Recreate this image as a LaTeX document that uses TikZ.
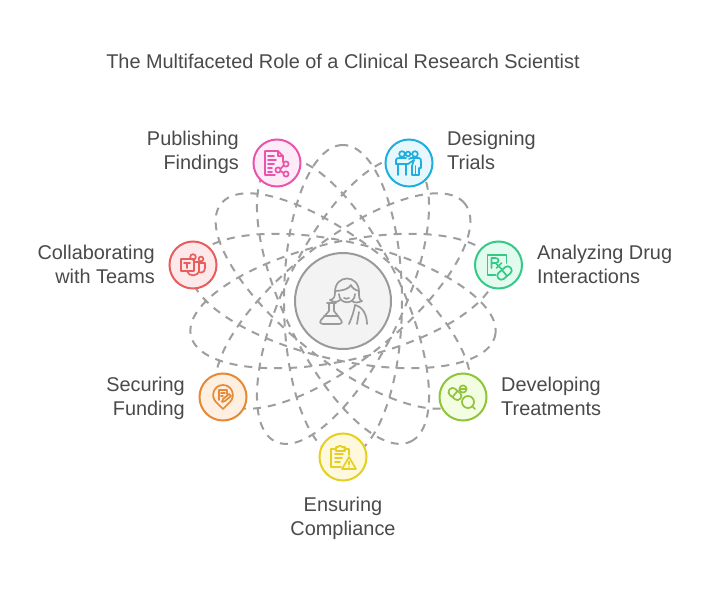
\documentclass[tikz,border=0pt]{standalone}
\usepackage{fontspec}
\setmainfont{Liberation Sans}
\usetikzlibrary{positioning}
\definecolor{textgray}{HTML}{4A4A4A}
\definecolor{orbitgray}{HTML}{9E9E9E}
\definecolor{hubline}{HTML}{9A9A9A}
\definecolor{hubfill}{HTML}{F3F3F3}
\definecolor{pinkline}{HTML}{E955AC}
\definecolor{pinkfill}{HTML}{FDEBF7}
\definecolor{blueline}{HTML}{1FAEDD}
\definecolor{bluefill}{HTML}{E6F8FE}
\definecolor{greenline}{HTML}{35C987}
\definecolor{greenfill}{HTML}{E3FBEF}
\definecolor{limeline}{HTML}{8FC43C}
\definecolor{limefill}{HTML}{F3FDE1}
\definecolor{yellowline}{HTML}{E6CF22}
\definecolor{yellowfill}{HTML}{FEF9DC}
\definecolor{orangeline}{HTML}{E58A38}
\definecolor{orangefill}{HTML}{FEEFE1}
\definecolor{redline}{HTML}{E85E5E}
\definecolor{redfill}{HTML}{FDE9E9}
\tikzset{
    orbit/.style={
        draw=orbitgray,
        line width=2pt,
        dash pattern=on 8pt off 7pt
    },
    hub/.style={
        circle,
        draw=hubline,
        fill=hubfill,
        line width=2pt,
        minimum size=96pt,
        inner sep=0pt
    },
    role/.style={
        circle,
        line width=2pt,
        minimum size=47pt,
        inner sep=0pt
    },
    caption/.style={
        text=textgray,
        inner sep=0pt,
        font=\fontsize{19.9}{24}\selectfont
    },
    rolecaption/.style={
        caption,
        execute at begin node=\strut,
        execute at end node=\strut
    },
    icon/.style={
        line width=1.7pt,
        line cap=round,
        line join=round
    }
}

\begin{document}
\begin{tikzpicture}[x=1pt,y=-1pt]
    \useasboundingbox[fill=white] (0,0) rectangle (704,591);

    \node[caption] (title) at (343,61) {The Multifaceted Role of a Clinical Research Scientist};

    % orbits
    \foreach \a in {90,64.3,38.6,12.9,-12.9,-38.6,-64.3}
        \draw[orbit, rotate around={\a:(343,301)}] (343,301) ellipse (156pt and 59pt);

    \node[hub] (scientist) at (343,301) {};
    \node[role, draw=pinkline, fill=pinkfill] (publishing) at (277,163) {};
    \node[role, draw=blueline, fill=bluefill] (designing) at (409,163) {};
    \node[role, draw=greenline, fill=greenfill] (analyzing) at (498.5,265) {};
    \node[role, draw=limeline, fill=limefill] (developing) at (463,397) {};
    \node[role, draw=yellowline, fill=yellowfill] (ensuring) at (343,457) {};
    \node[role, draw=orangeline, fill=orangefill] (securing) at (223,397) {};
    \node[role, draw=redline, fill=redfill] (collaborating) at (193,265) {};

    \node[rolecaption, align=right, anchor=east] (publishingtext) at (239,154.2) {Publishing\\Findings};
    \node[rolecaption, align=left, anchor=west] (designingtext) at (447,154.2) {Designing\\Trials};
    \node[rolecaption, align=left, anchor=west] (analyzingtext) at (537,268.2) {Analyzing Drug\\Interactions};
    \node[rolecaption, align=left, anchor=west] (developingtext) at (501,400.2) {Developing\\Treatments};
    \node[rolecaption, align=center] (ensuringtext) at (343,520.2) {Ensuring\\Compliance};
    \node[rolecaption, align=right, anchor=east] (securingtext) at (185,400.2) {Securing\\Funding};
    \node[rolecaption, align=right, anchor=east] (collaboratingtext) at (155,268.2) {Collaborating\\with Teams};

    % scientist
    \begin{scope}[shift={(scientist.center)}, icon, draw=hubline]
        \draw (-8,-9) .. controls (-8,-27) and (16,-27) .. (16,-9) .. controls (16,-4) and (16,-1) .. (19,0) .. controls (15,2) and (11,2) .. (9,0);
        \draw (-8,-9) .. controls (-8,-4) and (-9,-2) .. (-13,-1) .. controls (-9,2) and (-5,1) .. (-3,-1);
        \draw (-8,-10) .. controls (-1,-10) and (6,-12) .. (8,-16) .. controls (9,-13) and (12,-11) .. (16,-10);
        \draw (-4,-7) .. controls (-4,4) and (12,4) .. (12,-7);
        \draw (1,-3) .. controls (2,-2) and (5,-2) .. (6,-3);
        \draw (-16,2) -- (-7,2) (-14,2) -- (-14,10) -- (-22,19) .. controls (-24,22) and (-22,23) .. (-20,23) -- (-4,23) .. controls (-2,23) and (0,22) .. (-2,19) -- (-9,10) -- (-9,2);
        \draw (-19,15) -- (-5,15);
        \draw (6,23) .. controls (9,16) and (11,10) .. (12,4) .. controls (20,6) and (24,14) .. (24,23);
        \draw (16,11) -- (14,23);
    \end{scope}

    % publishing
    \begin{scope}[shift={(publishing.center)}, icon, draw=pinkline]
        \draw (-2,12) -- (-12,12) -- (-12,-12) -- (1,-12) -- (6,-7) -- (6,-1);
        \draw (1,-12) -- (1,-7) -- (6,-7);
        \draw (-9,-7) -- (-3,-7) (-9,-3) -- (-1,-3) (-9,1) -- (-3,1) (-9,5) -- (-5,5) (-9,9) -- (-5,9);
        \draw (1,7) circle (2.6pt) (9,1) circle (2.6pt) (9,11) circle (2.6pt);
        \draw (3.5,6) -- (6.5,2.5) (3.5,8) -- (6.5,10);
    \end{scope}

    % designing
    \begin{scope}[shift={(designing.center)}, icon, draw=blueline]
        \draw (-7,-9) circle (2.8pt) (-1,-9) circle (2.4pt) (6,-9) circle (2.8pt);
        \draw (-13,1) -- (-13,-3) .. controls (-13,-5) and (-11,-5) .. (-9,-5) -- (-3,-5);
        \draw (-13,1) -- (-1,1) -- (5,-3) (-11,1) -- (-11,12) (-3,1) -- (-3,12);
        \draw (0,-4) -- (2,-5) -- (10,-5) .. controls (12,-5) and (12,-3) .. (12,-1) -- (12,5) -- (10,5) -- (10,12) -- (3,12) -- (3,3) -- (5,-3);
        \draw (6.5,3) -- (6.5,12);
    \end{scope}

    % analyzing
    \begin{scope}[shift={(analyzing.center)}, icon, draw=greenline]
        \draw (-3,10) -- (-11,10) -- (-11,-10) -- (8,-10) -- (8,-2);
        \draw (-7,3) -- (-7,-7) -- (-3,-7) .. controls (1,-7) and (1,-2) .. (-3,-2) -- (-7,-2);
        \draw (-3,-2) -- (3,4) (3,-2) -- (-2,3);
        \draw[rounded corners=3.5pt, rotate around={40:(6,8)}] (-2,4) rectangle (14,12);
        \draw[rotate around={40:(6,8)}] (6,4) -- (6,12);
    \end{scope}

    % developing
    \begin{scope}[shift={(developing.center)}, icon, draw=limeline]
        \draw (0,-8) circle (3.6pt) (-3,-8) -- (3,-8);
        \draw[rounded corners=3.5pt, rotate around={-40:(-8,-3)}] (-15,-7) rectangle (-1,1);
        \draw[rotate around={-40:(-8,-3)}] (-8,-7) -- (-8,1);
        \draw (5,5) circle (6pt) (9.5,9.5) -- (12,12);
    \end{scope}

    % ensuring
    \begin{scope}[shift={(ensuring.center)}, icon, draw=yellowline]
        \draw (-2,10) -- (-12,10) -- (-12,-8) -- (-7,-8) (1,-8) -- (6,-8) -- (6,-2);
        \draw (-7,-6) -- (-7,-10) -- (-5,-10) -- (-4,-11) -- (-2,-11) -- (-1,-10) -- (2,-10) -- (2,-6) -- cycle;
        \draw (-8,-3) -- (0,-3) (-8,1) -- (-1,1) (-8,5) -- (-3,5);
        \draw[fill=yellowfill] (6,0) -- (13,12) -- (-1,12) -- cycle;
        \draw (6,4.5) -- (6,7.5) (6,9.9) -- (6,10);
    \end{scope}

    % securing
    \begin{scope}[shift={(securing.center)}, icon, draw=orangeline]
        \draw (0,12) -- (-7,5) .. controls (-13,-1) and (-9,-12) .. (0,-12) .. controls (9,-12) and (13,-1) .. (7,5) -- cycle;
        \draw (-4,3) -- (-4,-7) -- (4,-7) -- (4,-3);
        \draw (-2,-4) -- (2,-4) (-2,-1) -- (0,-1);
        \draw (-1,5) -- (0,2) -- (6,-3) -- (8,-1) -- (2,4) -- cycle;
    \end{scope}

    % collaborating
    \begin{scope}[shift={(collaborating.center)}, icon, draw=redline]
        \draw (-12,-6) rectangle (1,6);
        \draw (-9,-2) -- (-3,-2) (-6,-2) -- (-6,3);
        \draw (0,-8) circle (2.8pt) (8,-6) circle (2.4pt);
        \draw (1,-3) -- (6,-3) -- (6,5) .. controls (6,12) and (-5,12) .. (-6,6);
        \draw (6,-2) -- (12,-2) -- (12,3) .. controls (12,8) and (7,8) .. (6,7);
    \end{scope}
\end{tikzpicture}
\end{document}
